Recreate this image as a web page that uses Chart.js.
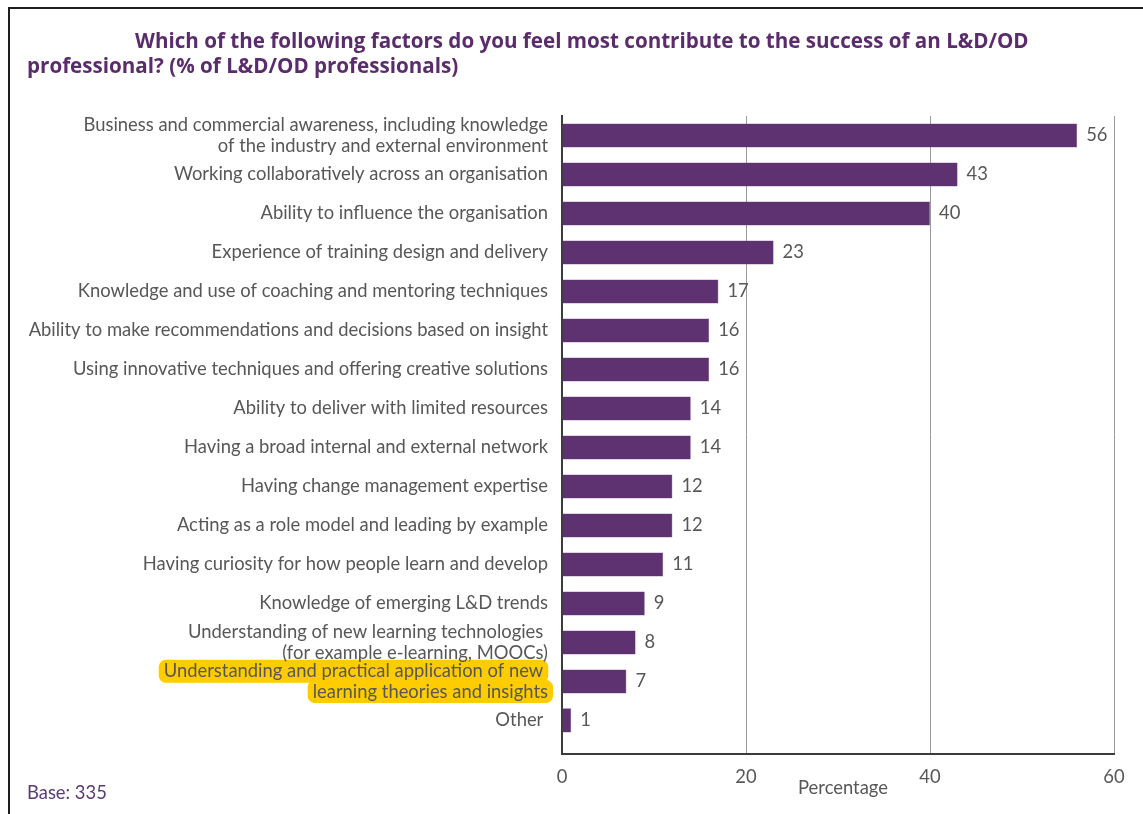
<!DOCTYPE html>
<html>
<head>
<meta charset="utf-8">
<script src="https://cdn.jsdelivr.net/npm/chart.js@4"></script>
<style>
  html, body { margin: 0; padding: 0; background: #fff; }
  #wrap { position: relative; width: 1143px; height: 814px; overflow: hidden; }
  #frame { position: absolute; left: 8px; top: 7px; width: 1200px; height: 900px;
           border-top: 2px solid #1e1e1e; border-left: 2px solid #1e1e1e; box-sizing: border-box; }
  canvas { position: absolute; left: 0; top: 0; }
</style>
</head>
<body>
<div id="wrap">
  <div id="frame"></div>
  <canvas id="chart" width="1143" height="814"></canvas>
</div>
<script>
// Survey factors (multi-line where the label wraps) and share of respondents, %
const factors = [
  ["Business and commercial awareness, including knowledge", "of the industry and external environment"],
  "Working collaboratively across an organisation",
  "Ability to influence the organisation",
  "Experience of training design and delivery",
  "Knowledge and use of coaching and mentoring techniques",
  "Ability to make recommendations and decisions based on insight",
  "Using innovative techniques and offering creative solutions",
  "Ability to deliver with limited resources",
  "Having a broad internal and external network",
  "Having change management expertise",
  "Acting as a role model and leading by example",
  "Having curiosity for how people learn and develop",
  "Knowledge of emerging L&D trends",
  ["Understanding of new learning technologies ", "(for example e-learning, MOOCs)"],
  ["Understanding and practical application of new ", "learning theories and insights"],
  "Other "
];
const percentages = [56, 43, 40, 23, 17, 16, 16, 14, 14, 12, 12, 11, 9, 8, 7, 1];
const xTicks = [0, 20, 40, 60];
const highlightedFactor = 14;

const titleLines = [
  "Which of the following factors do you feel most contribute to the success of an L&D/OD",
  "professional? (% of L&D/OD professionals)"
];
const axisTitle = "Percentage";
const baseNote = "Base: 335";

const FONT = "Lato, 'Open Sans', sans-serif";
const LABEL_SIZE = 18.4;
const TEXT_GREY = "#575757";
const PURPLE = "#5e3270";
const TITLE_PURPLE = "#5a2c6b";
const TICK_PAD = 14;

// Yellow marker behind the highlighted factor's label lines
const highlightPlugin = {
  id: 'highlight',
  beforeDraw(chart) {
    const y = chart.scales.y;
    const ctx = chart.ctx;
    const lines = [].concat(factors[highlightedFactor]);
    const lh = LABEL_SIZE * 1.1;
    const cy = y.getPixelForValue(highlightedFactor);
    const xr = y.right - TICK_PAD;
    ctx.save();
    ctx.font = `${LABEL_SIZE}px ${FONT}`;
    ctx.fillStyle = "#ffcc00";
    lines.forEach((ln, i) => {
      const w = ctx.measureText(ln.trimEnd()).width;
      const lineY = cy - (lines.length - 1) * lh / 2 + i * lh;
      const trailing = ctx.measureText(ln).width - w;
      const x1 = xr - trailing - w - 5, x2 = xr - trailing + 5;
      ctx.beginPath();
      ctx.roundRect(x1, lineY - 11.5, x2 - x1, 23, 7);
      ctx.fill();
    });
    ctx.restore();
  }
};

// Title, axis caption, base note and bar-end values
const textPlugin = {
  id: 'texts',
  afterDraw(chart) {
    const ctx = chart.ctx;
    const area = chart.chartArea;
    ctx.save();
    ctx.textBaseline = 'middle';
    ctx.font = `bold 20.6px 'Open Sans', sans-serif`;
    ctx.fillStyle = TITLE_PURPLE;
    ctx.textAlign = 'left';
    ctx.fillText(titleLines[0], 135, 42);
    ctx.fillText(titleLines[1], 27, 67);

    ctx.font = `${LABEL_SIZE}px ${FONT}`;
    ctx.fillStyle = TEXT_GREY;
    ctx.textAlign = 'center';
    ctx.fillText(axisTitle, (area.left + area.right) / 2 + 5, 788);

    ctx.fillStyle = "#5a3a78";
    ctx.textAlign = 'left';
    ctx.fillText(baseNote, 27, 793);
    ctx.restore();
  },
  afterDatasetsDraw(chart) {
    const ctx = chart.ctx;
    const meta = chart.getDatasetMeta(0);
    ctx.save();
    ctx.font = `${LABEL_SIZE}px ${FONT}`;
    ctx.fillStyle = TEXT_GREY;
    ctx.textAlign = 'left';
    ctx.textBaseline = 'middle';
    meta.data.forEach((bar, i) => {
      ctx.fillText(String(percentages[i]), bar.x + 9, bar.y);
    });
    ctx.restore();
  }
};

new Chart(document.getElementById('chart'), {
  type: 'bar',
  data: {
    datasets: [{
      data: percentages.map((v, i) => ({ x: v, y: i })),
      backgroundColor: PURPLE,
      borderColor: "#7b5590",
      borderWidth: 0.5,
      barPercentage: 0.62,
      categoryPercentage: 1.0
    }]
  },
  options: {
    indexAxis: 'y',
    responsive: false,
    animation: false,
    layout: { padding: { left: 0, top: 116, right: 29, bottom: 0 } },
    plugins: { legend: { display: false }, tooltip: { enabled: false }, title: { display: false } },
    scales: {
      x: {
        type: 'linear',
        min: 0, max: 60,
        afterBuildTicks(scale) { scale.ticks = xTicks.map(v => ({ value: v })); },
        afterFit(scale) { scale.height = 60; },
        grid: {
          color: ctx => ctx.tick && ctx.tick.value === 0 ? 'rgba(0,0,0,0)' : '#9a9a9a',
          lineWidth: 1,
          drawTicks: false
        },
        border: { display: true, color: '#3c3c3c', width: 2 },
        ticks: {
          padding: 12,
          color: TEXT_GREY,
          font: { family: FONT, size: LABEL_SIZE }
        }
      },
      y: {
        type: 'linear',
        reverse: true,
        offset: false,
        // one slot per factor, with some spare room beneath the last row
        min: -0.5,
        max: factors.length - 0.14,
        afterBuildTicks(scale) { scale.ticks = factors.map((f, i) => ({ value: i })); },
        afterFit(scale) { scale.width = 562; },
        grid: { display: false, drawTicks: false, offset: false },
        border: { display: true, color: '#3c3c3c', width: 2 },
        ticks: {
          padding: TICK_PAD,
          color: TEXT_GREY,
          autoSkip: false,
          callback: v => factors[v],
          font: { family: FONT, size: LABEL_SIZE, lineHeight: 1.1 }
        }
      }
    }
  },
  plugins: [highlightPlugin, textPlugin]
});
</script>
</body>
</html>
